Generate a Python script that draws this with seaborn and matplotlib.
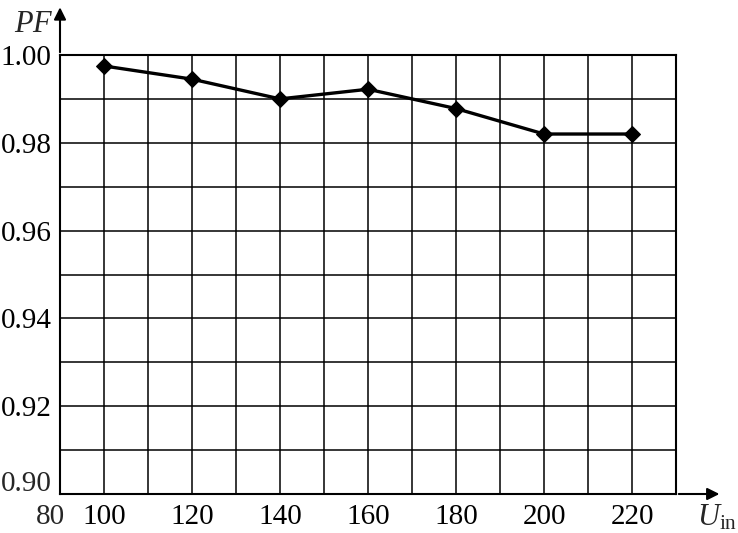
import pandas as pd
import seaborn as sns
import matplotlib.pyplot as plt
import matplotlib.transforms as mtransforms

# Power factor vs input voltage
u_in = [100, 120, 140, 160, 180, 200, 220]
pf = [0.9975, 0.9945, 0.9900, 0.9922, 0.9878, 0.9820, 0.9820]

x_major = [100, 120, 140, 160, 180, 200, 220]
x_labels = ['100', '120', '140', '160', '180', '200', '220']
y_major = [0.90, 0.92, 0.94, 0.96, 0.98, 1.00]
y_labels = ['', '0.92', '0.94', '0.96', '0.98', '1.00']

df = pd.DataFrame({'U_in': u_in, 'PF': pf})

sns.set_style('white')
plt.rcParams['font.family'] = ['Liberation Serif', 'DejaVu Serif']
plt.rcParams['mathtext.fontset'] = 'custom'
plt.rcParams['mathtext.rm'] = 'Liberation Serif'
plt.rcParams['mathtext.it'] = 'Liberation Serif:italic'

fig = plt.figure(figsize=(7.38, 5.33), dpi=100)
ax = fig.add_axes([60 / 738, 39 / 533, 616 / 738, 439 / 533])

sns.lineplot(data=df, x='U_in', y='PF', ax=ax, color='black', linewidth=2.4,
             marker='D', markersize=8.5, markeredgecolor='black', zorder=5)

ax.set_xlim(90, 230)
ax.set_ylim(0.90, 1.00)
ax.set_xticks(x_major)
ax.set_xticklabels(x_labels)
ax.set_xticks(range(90, 231, 10), minor=True)
ax.set_yticks(y_major)
ax.set_yticklabels(y_labels)
ax.set_yticks([0.91, 0.93, 0.95, 0.97, 0.99], minor=True)
ax.grid(True, which='both', color='black', linewidth=1.1)
ax.tick_params(which='both', length=0, labelsize=21, colors='black')
ax.tick_params(axis='x', pad=7)
ax.tick_params(axis='y', pad=6)
ax.set_xlabel('')
ax.set_ylabel('')
for s in ax.spines.values():
    s.set_color('black')
    s.set_linewidth(1.5)

# origin labels: "80" shifted left, "0.90" shifted up
xtrans = mtransforms.blended_transform_factory(ax.transData, ax.transAxes)
ax.text(90, 0, '80', ha='center', va='top', fontsize=21,
        transform=xtrans + mtransforms.ScaledTranslation(-10 / 100, -7 / 72, fig.dpi_scale_trans))
ytrans = mtransforms.blended_transform_factory(ax.transAxes, ax.transData)
ax.text(0, 0.90, '0.90', ha='right', va='center', fontsize=21,
        transform=ytrans + mtransforms.ScaledTranslation(-6 / 72, 10 / 100, fig.dpi_scale_trans))

# axis arrows
ax.annotate('', xy=(1.075, 0), xytext=(1.0, 0), xycoords='axes fraction',
            arrowprops=dict(arrowstyle='-|>', color='black', lw=1.5,
                            mutation_scale=18), annotation_clip=False)
ax.annotate('', xy=(0, 1.115), xytext=(0, 1.0), xycoords='axes fraction',
            arrowprops=dict(arrowstyle='-|>', color='black', lw=1.5,
                            mutation_scale=18), annotation_clip=False)

fig.text(54 / 738, 1 - 32 / 533, r'$PF$', ha='right', va='baseline', fontsize=22)
fig.text(697 / 738, 1 - 526 / 533, r'$U_{\rm in}$', ha='left', va='baseline', fontsize=22)

fig.savefig('out.png', dpi=100)
